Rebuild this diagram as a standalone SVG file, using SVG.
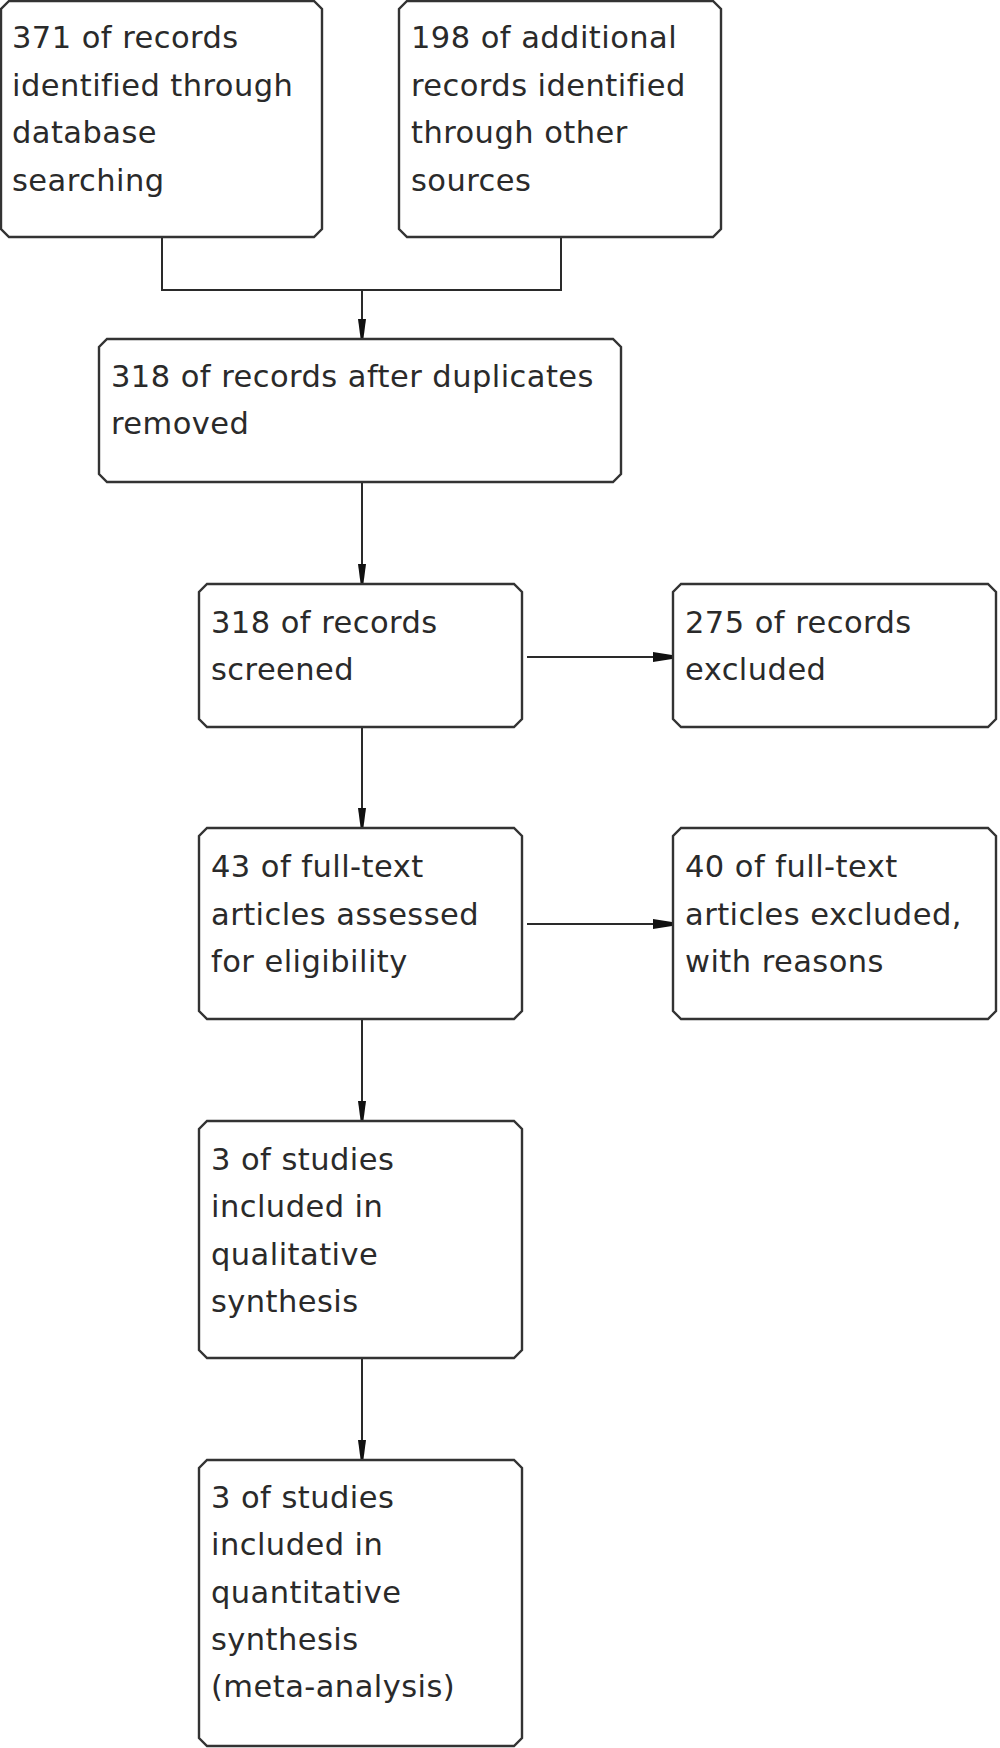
<svg xmlns="http://www.w3.org/2000/svg" width="1000" height="1748" viewBox="0 0 1000 1748">
<style>
.box{fill:#ffffff;stroke:#333333;stroke-width:2.4}
.t{font-family:"DejaVu Sans",Verdana,sans-serif;font-size:30.5px;letter-spacing:0.45px;fill:#2a2a2a}
.c{fill:none;stroke:#2a2a2a;stroke-width:2}
.ah{fill:#111111}
</style>
<rect width="1000" height="1748" fill="#ffffff"/>
<g id="connectors">
<path class="c" d="M162,237 V290 H561 V237"/>
<path class="c" d="M362,290 V337"/>
<path class="ah" d="M358,319 H366 L363.5,338 H360.5 Z"/>
<path class="c" d="M362,482 V582"/>
<path class="ah" d="M358,564 H366 L363.5,583 H360.5 Z"/>
<path class="c" d="M362,727 V826"/>
<path class="ah" d="M358,808 H366 L363.5,827 H360.5 Z"/>
<path class="c" d="M362,1019 V1119"/>
<path class="ah" d="M358,1101 H366 L363.5,1120 H360.5 Z"/>
<path class="c" d="M362,1358 V1458"/>
<path class="ah" d="M358,1440 H366 L363.5,1459 H360.5 Z"/>
<path class="c" d="M527,657 H671"/>
<path class="ah" d="M653,652 V662 L672,659 V655 Z"/>
<path class="c" d="M527,924 H671"/>
<path class="ah" d="M653,919 V929 L672,926 V922 Z"/>
</g>
<g id="n1">
<path class="box" d="M9,1 H314 L322,9 V229 L314,237 H9 L1,229 V9 Z"/>
<text class="t" x="12" y="48">371 of records</text>
<text class="t" x="12" y="96">identified through</text>
<text class="t" x="12" y="143">database</text>
<text class="t" x="12" y="191">searching</text>
</g>
<g id="n2">
<path class="box" d="M407,1 H713 L721,9 V229 L713,237 H407 L399,229 V9 Z"/>
<text class="t" x="411" y="48">198 of additional</text>
<text class="t" x="411" y="96">records identified</text>
<text class="t" x="411" y="143">through other</text>
<text class="t" x="411" y="191">sources</text>
</g>
<g id="n3">
<path class="box" d="M107,339 H613 L621,347 V474 L613,482 H107 L99,474 V347 Z"/>
<text class="t" x="111" y="387">318 of records after duplicates</text>
<text class="t" x="111" y="434">removed</text>
</g>
<g id="n4">
<path class="box" d="M207,584 H514 L522,592 V719 L514,727 H207 L199,719 V592 Z"/>
<text class="t" x="211" y="633">318 of records</text>
<text class="t" x="211" y="680">screened</text>
</g>
<g id="n5">
<path class="box" d="M681,584 H988 L996,592 V719 L988,727 H681 L673,719 V592 Z"/>
<text class="t" x="685" y="633">275 of records</text>
<text class="t" x="685" y="680">excluded</text>
</g>
<g id="n6">
<path class="box" d="M207,828 H514 L522,836 V1011 L514,1019 H207 L199,1011 V836 Z"/>
<text class="t" x="211" y="877">43 of full-text</text>
<text class="t" x="211" y="925">articles assessed</text>
<text class="t" x="211" y="972">for eligibility</text>
</g>
<g id="n7">
<path class="box" d="M681,828 H988 L996,836 V1011 L988,1019 H681 L673,1011 V836 Z"/>
<text class="t" x="685" y="877">40 of full-text</text>
<text class="t" x="685" y="925">articles excluded,</text>
<text class="t" x="685" y="972">with reasons</text>
</g>
<g id="n8">
<path class="box" d="M207,1121 H514 L522,1129 V1350 L514,1358 H207 L199,1350 V1129 Z"/>
<text class="t" x="211" y="1170">3 of studies</text>
<text class="t" x="211" y="1217">included in</text>
<text class="t" x="211" y="1265">qualitative</text>
<text class="t" x="211" y="1312">synthesis</text>
</g>
<g id="n9">
<path class="box" d="M207,1460 H514 L522,1468 V1738 L514,1746 H207 L199,1738 V1468 Z"/>
<text class="t" x="211" y="1508">3 of studies</text>
<text class="t" x="211" y="1555">included in</text>
<text class="t" x="211" y="1603">quantitative</text>
<text class="t" x="211" y="1650">synthesis</text>
<text class="t" x="211" y="1697">(meta-analysis)</text>
</g>
</svg>
